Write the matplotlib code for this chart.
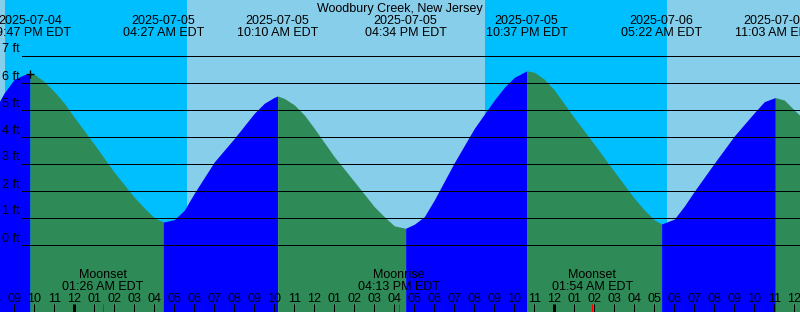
import numpy as np
import pandas as pd
import matplotlib
matplotlib.use('Agg')
import matplotlib.pyplot as plt
from matplotlib import transforms

plt.rcParams['font.family'] = ['Liberation Sans', 'DejaVu Sans']

# Datos (altura en pies, hora local EDT)
station = 'Woodbury Creek, New Jersey'
hourly_start = '2025-07-04 20:00'
hourly_ft = [5.0, 6.15, 6.33, 5.69, 4.74, 3.74, 2.70, 1.78, 1.02, 0.95,
             1.93, 3.09, 3.96, 4.89, 5.48, 5.2, 4.33, 3.28, 2.36, 1.43,
             0.72, 0.78, 1.68, 3.06, 4.33, 5.38, 6.22, 6.41, 5.75, 4.72,
             3.74, 2.73, 1.74, 0.94, 0.97, 2.0, 3.04, 4.05, 4.91, 5.46,
             5.01, 4.3]

# lecturas extra a la media hora cerca de pleamares y bajamares
extra_times = ['2025-07-04 20:30', '2025-07-04 21:30', '2025-07-04 22:30',
               '2025-07-04 23:30', '2025-07-05 03:30', '2025-07-05 05:30',
               '2025-07-05 09:30', '2025-07-05 10:30', '2025-07-05 11:30',
               '2025-07-05 15:30', '2025-07-05 17:30', '2025-07-05 21:30',
               '2025-07-05 23:30', '2025-07-06 04:30', '2025-07-06 06:30',
               '2025-07-06 10:30', '2025-07-06 11:30']
extra_ft = [5.65, 6.32, 6.06, 5.26, 1.38, 1.3, 5.26, 5.44, 4.83,
            1.06, 1.06, 5.85, 6.15, 1.31, 1.45, 5.32, 5.38]

extreme_times = ['2025-07-04 21:47', '2025-07-05 04:27', '2025-07-05 10:10',
                 '2025-07-05 16:34', '2025-07-05 22:37', '2025-07-06 05:22',
                 '2025-07-06 11:03']
extreme_ft = [6.35, 0.86, 5.53, 0.63, 6.46, 0.79, 5.47]

night_start = ['2025-07-04 20:32', '2025-07-05 20:32']
night_end = ['2025-07-05 05:38', '2025-07-06 05:38']

moon_times = ['2025-07-05 01:26', '2025-07-05 16:13', '2025-07-06 01:54']
moon_events = ['Moonset', 'Moonrise', 'Moonset']

now_time = '2025-07-04 21:47'
now_ft = 6.35

# --- conversion a horas desde medianoche del 5 de julio ---
t0 = pd.Timestamp('2025-07-05 00:00')


def to_h(ts):
    return (pd.Timestamp(ts) - t0) / pd.Timedelta(hours=1)


W, H = 800, 312
PX_H = 20.0      # pixeles por hora
X0 = 74.3        # pixel de la medianoche
PX_FT = 27.0     # pixeles por pie
Y0 = 245.3       # pixel de 0 ft

xmin, xmax = -X0 / PX_H, (W - X0) / PX_H
ymin, ymax = (Y0 - H) / PX_FT, Y0 / PX_FT

h_start = to_h(hourly_start)
t_hourly = h_start + np.arange(len(hourly_ft))
t_extra = np.array([to_h(t) for t in extra_times])
t_ext = np.array([to_h(t) for t in extreme_times])

t_all = np.concatenate([t_hourly, t_extra, t_ext])
y_all = np.concatenate([hourly_ft, extra_ft, extreme_ft])
order = np.argsort(t_all)
t_all, y_all = t_all[order], y_all[order]

fig = plt.figure(figsize=(W / 100, H / 100), dpi=100)
ax = fig.add_axes([0, 0, 1, 1])
ax.set_xlim(xmin, xmax)
ax.set_ylim(ymin, ymax)
ax.axis('off')
ax.add_patch(plt.Rectangle((0, 0), 1, 1, transform=ax.transAxes,
                           color='#87CEEB', zorder=0))

for a, b in zip(night_start, night_end):
    ax.axvspan(to_h(a), to_h(b), color='#00BFFF', lw=0, zorder=1)

# relleno por tramos: subiendo azul, bajando verde
bounds = [0] + [int(np.where(t_all == te)[0][0]) for te in t_ext] + [len(t_all) - 1]
for i0, i1 in zip(bounds[:-1], bounds[1:]):
    seg_t = t_all[i0:i1 + 1]
    seg_y = y_all[i0:i1 + 1]
    color = '#0000FF' if seg_y[-1] > seg_y[0] else '#2E8B57'
    ax.fill_between(seg_t, seg_y, ymin, color=color, lw=0, zorder=2)

px_line = 72 / 100
for k in range(8):
    ax.axhline(k, xmin=22 / W, color='black', lw=px_line, zorder=3)

trans_top = transforms.blended_transform_factory(ax.transData, ax.transAxes)
fs = 9


def ytop(py):
    return 1 - py / H


for k in range(8):
    ax.text(2.5 / W, ytop(Y0 - PX_FT * k - 3.8), f'{k} ft', transform=ax.transAxes,
            ha='left', va='baseline', fontsize=fs, zorder=4)

ax.text(0.5, ytop(12), station, transform=ax.transAxes, ha='center',
        va='baseline', fontsize=fs, zorder=4)

for ts in extreme_times:
    t = pd.Timestamp(ts)
    ax.text(to_h(ts), ytop(24), t.strftime('%Y-%m-%d'), transform=trans_top,
            ha='center', va='baseline', fontsize=fs, zorder=4)
    ax.text(to_h(ts), ytop(36), t.strftime('%I:%M %p EDT'), transform=trans_top,
            ha='center', va='baseline', fontsize=fs, zorder=4)

for ts, ev in zip(moon_times, moon_events):
    t = pd.Timestamp(ts)
    ax.text(to_h(ts), ytop(278), ev, transform=trans_top,
            ha='center', va='baseline', fontsize=fs, zorder=4)
    ax.text(to_h(ts), ytop(290), t.strftime('%I:%M %p EDT'), transform=trans_top,
            ha='center', va='baseline', fontsize=fs, zorder=4)
    ax.vlines(to_h(ts), 0, 8 / H, transform=trans_top, color='red',
              lw=px_line, zorder=5)

# marcas horarias
hours = np.arange(np.floor(xmin), np.ceil(xmax) + 1)
for hh in hours:
    t = t0 + pd.Timedelta(hours=float(hh))
    midnight = t.hour == 0
    ax.vlines(hh, 0, 8 / H, transform=trans_top, color='black',
              lw=px_line * (3 if midnight else 1), zorder=5)
    ax.text(hh, ytop(302), t.strftime('%I'), transform=trans_top,
            ha='center', va='baseline', fontsize=fs, zorder=4)

ax.plot(to_h(now_time), now_ft, marker='+', ms=6, mew=1, color='black', zorder=6)

fig.savefig('out.png', dpi=100)
